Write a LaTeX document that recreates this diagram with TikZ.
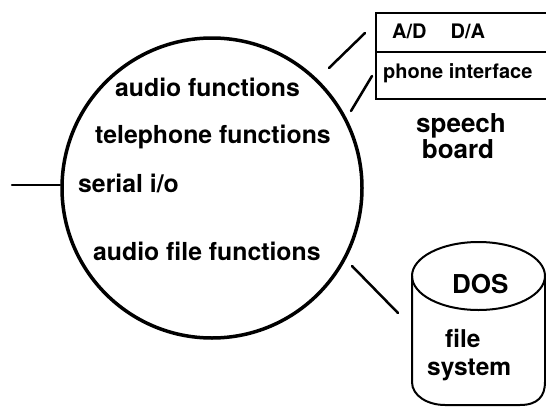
\documentclass[tikz,border=0pt]{standalone}
\usepackage{fontspec}
\setmainfont{TeX Gyre Heros}
\begin{document}
\begin{tikzpicture}[x=1pt,y=-1pt,
  lbl/.style={font=\bfseries\fontsize{24.8}{26}\selectfont, inner sep=0pt, anchor=base west},
  small/.style={font=\bfseries\fontsize{20}{22}\selectfont, inner sep=0pt, anchor=base west},
  big/.style={font=\bfseries\fontsize{26}{26}\selectfont, inner sep=0pt, anchor=base},
  mid/.style={font=\bfseries\fontsize{24.5}{26}\selectfont, inner sep=0pt, anchor=base west},
  wire/.style={line width=2.5pt, line cap=round},
  edge/.style={line width=2pt}]
\useasboundingbox (0,0) rectangle (546,407);

% central process circle
\node[circle, draw, line width=3.5pt, minimum size=300pt, inner sep=0pt] (proc) at (212,188) {};
\node[lbl] (audio) at (115,96) {audio functions};
\node[lbl] (tel) at (95,143) {telephone functions};
\node[lbl] (serial) at (78,192) {serial i/o};
\node[lbl] (afile) at (93,260) {audio file functions};

% speech board (open on the right)
\draw[edge] (546,13) -- (376,13) -- (376,99) -- (546,99);
\draw[edge] (376,52) -- (546,52);
\node[small] (adda) at (392,38) {A/D\hspace{1.2em}D/A};
\node[small] (phone) at (383,78) {phone interface};
\node[big] (speech) at (461,132) {speech};
\node[big] (board) at (458,158) {board};

% DOS file system cylinder
\draw[edge] (478.5,276) ellipse [x radius=66.5, y radius=34];
\draw[edge] (412,276) -- (412,382) .. controls (412,396) and (428,405) .. (445,405)
  -- (520,405) .. controls (538,405) and (545,396) .. (545,382) -- (545,276);
\node[big, anchor=base west] (dos) at (452,293) {DOS};
\node[mid] (file) at (445,347) {file};
\node[mid] (system) at (427,375) {system};

% connectors
\coordinate (inL) at (12,185);
\coordinate (inR) at (60,185);
\coordinate (b1a) at (329,68);
\coordinate (b1b) at (365,33);
\coordinate (b2a) at (351,111);
\coordinate (b2b) at (372,76);
\coordinate (c1a) at (352,266);
\coordinate (c1b) at (398,313);
\draw[wire] (inL) -- (inR);
\draw[wire] (b1a) -- (b1b);
\draw[wire] (b2a) -- (b2b);
\draw[wire] (c1a) -- (c1b);
\end{tikzpicture}
\end{document}
